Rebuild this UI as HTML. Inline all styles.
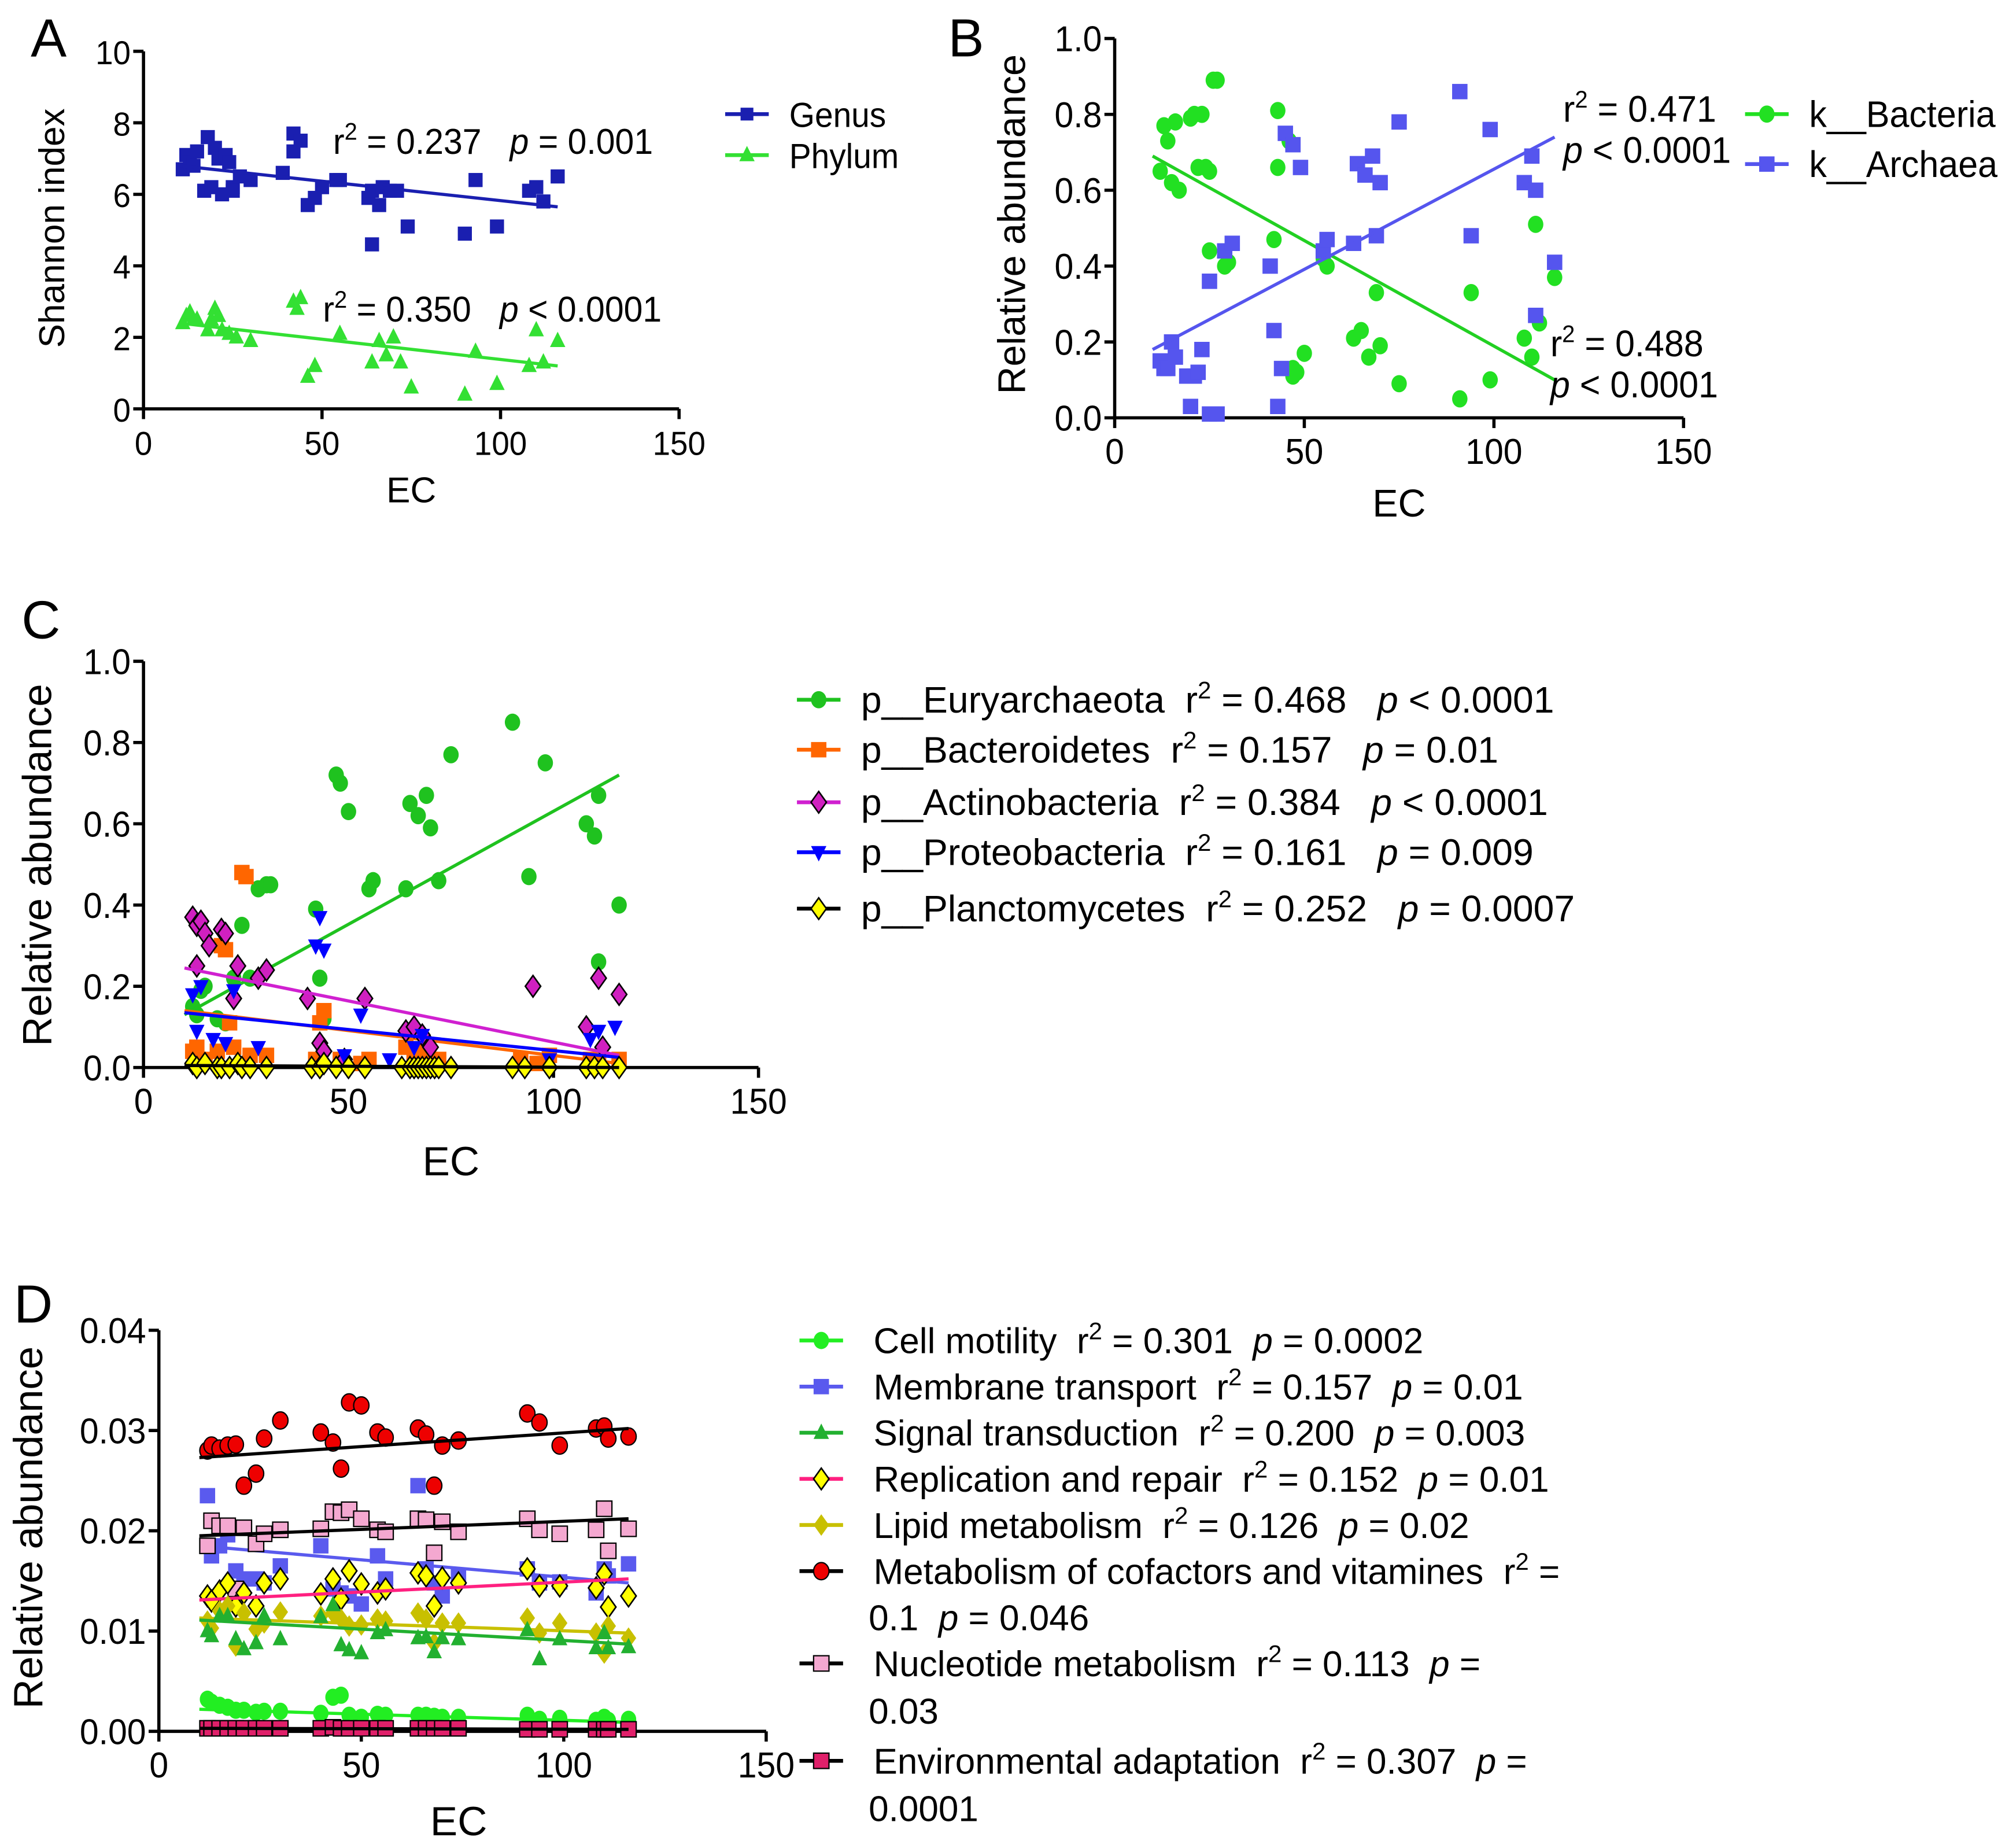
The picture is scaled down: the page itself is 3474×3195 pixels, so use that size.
<!DOCTYPE html>
<html><head><meta charset="utf-8"><style>
html,body{margin:0;padding:0;background:#fff}
svg{display:block}
text{font-family:"Liberation Sans",Arial,sans-serif;fill:#000}
</style></head><body>
<svg id="fig" xmlns="http://www.w3.org/2000/svg" width="3474" height="3195" viewBox="0 0 1568 1442">
<rect width="1568" height="1442" fill="#fff"/>
</svg>
<script>
// ---------- Panel A data ----------
const aGenusEC=[11,12,13,14,15,17,18,19,20,21,22,23,24,25,25,27,30,39,42,42,44,46,48,50,54,55,63,64,66,67,69,71,64,74,90,93,99,108,110,112,116];
const aGenusVal=[6.7,7.1,6.9,6.8,7.2,6.1,7.6,6.2,7.3,7.0,6.0,7.1,6.9,6.2,6.1,6.5,6.4,6.6,7.7,7.2,7.5,5.7,5.9,6.2,6.4,6.4,5.9,6.1,5.7,6.2,6.1,6.1,4.6,5.1,4.9,6.4,5.1,6.1,6.2,5.8,6.5];
const aPhylumEC=[11,12,13,14,15,18,19,20,21,22,24,26,30,42,43,44,46,48,55,64,66,68,70,72,75,90,93,99,108,110,112,116];
const aPhylumVal=[2.4,2.6,2.7,2.5,2.5,2.2,2.5,2.8,2.6,2.2,2.1,2.0,1.9,3.0,2.8,3.1,0.9,1.2,2.1,1.3,1.9,1.5,2.0,1.3,0.6,0.4,1.6,0.7,1.2,2.2,1.3,1.9];
const aLineGenus=[10,6.8,116,5.65];
const aLinePhylum=[10,2.4,116,1.2];
const aXTicks=[0,50,100,150];
const aYTicks=[0,2,4,6,8,10];
// ---------- Panel B data ----------
const bBacEC=[12,13,14,15,16,17,20,21,22,23,24,25,25,26,27,29,30,42,43,43,46,47,47,48,50,56,63,65,67,69,70,75,91,94,99,108,110,111,112,116,55];
const bBacVal=[0.65,0.77,0.73,0.62,0.78,0.60,0.79,0.80,0.66,0.80,0.66,0.65,0.44,0.89,0.89,0.40,0.41,0.47,0.81,0.66,0.73,0.11,0.13,0.12,0.17,0.40,0.21,0.23,0.16,0.33,0.19,0.09,0.05,0.33,0.10,0.21,0.16,0.51,0.25,0.37,0.42];
const bArcEC=[12,13,14,15,16,19,20,21,22,23,25,25,27,29,31,41,42,43,44,45,47,49,55,56,63,64,66,68,69,70,75,91,94,99,108,110,111,111,116];
const bArcVal=[0.15,0.13,0.13,0.20,0.16,0.11,0.03,0.11,0.12,0.18,0.36,0.01,0.01,0.44,0.46,0.40,0.23,0.03,0.13,0.75,0.72,0.66,0.44,0.47,0.46,0.67,0.64,0.69,0.48,0.62,0.78,0.86,0.48,0.76,0.62,0.69,0.60,0.27,0.41];
const bLineBac=[10,0.69,116,0.10];
const bLineArc=[10,0.18,116,0.74];
const bYTicks=[0,0.2,0.4,0.6,0.8,1.0];
// ---------- Panel C data ----------
const cEuryEC=[12,13,14,15,18,20,22,24,26,28,30,31,42,43,44,47,48,50,55,56,64,65,67,69,70,72,75,90,94,98,108,110,111,111,116];
const cEuryVal=[0.15,0.13,0.19,0.20,0.12,0.11,0.22,0.35,0.22,0.44,0.45,0.45,0.39,0.22,0.12,0.72,0.70,0.63,0.44,0.46,0.44,0.65,0.62,0.67,0.59,0.46,0.77,0.85,0.47,0.75,0.60,0.57,0.67,0.26,0.40];
const cBactEC=[12,13,15,18,19,20,21,22,24,25,26,30,42,43,44,48,53,55,64,66,68,70,72,92,96,99,109,111,116];
const cBactVal=[0.04,0.05,0.02,0.04,0.30,0.29,0.11,0.05,0.48,0.47,0.03,0.03,0.02,0.11,0.14,0.02,0.01,0.02,0.05,0.03,0.04,0.02,0.02,0.02,0.01,0.03,0.02,0.01,0.02];
const cActEC=[12,13,14,15,16,19,20,13,22,23,28,30,40,43,44,49,54,64,66,68,70,95,108,111,116,112];
const cActVal=[0.37,0.35,0.36,0.33,0.30,0.34,0.33,0.25,0.17,0.25,0.22,0.24,0.17,0.06,0.04,0.02,0.17,0.09,0.10,0.08,0.05,0.20,0.10,0.22,0.18,0.05];
const cProEC=[12,14,13,17,20,22,28,43,42,44,53,49,60,66,68,99,109,111,115];
const cProVal=[0.18,0.20,0.09,0.07,0.06,0.19,0.05,0.37,0.30,0.29,0.13,0.03,0.02,0.05,0.08,0.02,0.07,0.09,0.10];
const cPlaEC=[12,13,15,18,19,21,23,24,26,30,41,43,44,47,50,54,63,65,66,67,68,69,70,71,72,75,90,93,99,108,110,112,116];
const cPlaVal=[0.01,0.0,0.01,0.0,0.0,0.0,0.01,0.0,0.0,0.0,0.0,0.0,0.01,0.0,0.0,0.0,0.0,0.0,0.0,0.0,0.0,0.0,0.0,0.0,0.0,0.0,0.0,0.0,0.0,0.0,0.0,0.0,0.0];
const cLineEury=[10,0.13,116,0.72];
const cLineBact=[10,0.14,116,0.01];
const cLineAct=[10,0.245,116,0.03];
const cLinePro=[10,0.135,116,0.025];
const cLinePla=[10,0.005,116,0.0];
// ---------- Panel D data ----------
const dEC=[12,13,15,17,19,21,24,26,30,40,43,45,47,50,54,56,64,66,68,70,74,91,94,99,108,110,111,116];
const dCofactor=[0.028,0.0285,0.0282,0.0285,0.0286,0.0245,0.0257,0.0292,0.031,0.0298,0.0288,0.0262,0.0328,0.0325,0.0298,0.0293,0.0302,0.0296,0.0245,0.0285,0.029,0.0317,0.0308,0.0285,0.0302,0.0304,0.0292,0.0294];
const dNucleo=[0.0185,0.021,0.0205,0.0205,0.0142,0.0203,0.0187,0.0197,0.0201,0.0202,0.0219,0.0218,0.0221,0.0212,0.0201,0.0199,0.0212,0.0211,0.0178,0.0209,0.0199,0.0212,0.0201,0.0197,0.0201,0.0222,0.018,0.0202];
const dMembrane=[0.0235,0.0175,0.0185,0.0196,0.016,0.0152,0.0152,0.0148,0.0165,0.0185,0.0142,0.0138,0.0135,0.0127,0.0175,0.0152,0.0245,0.0162,0.0148,0.0135,0.0155,0.0162,0.0148,0.0149,0.0138,0.0162,0.0155,0.0167];
const dReplic=[0.0135,0.013,0.014,0.0148,0.0125,0.0138,0.0125,0.0148,0.0152,0.0137,0.0152,0.0132,0.016,0.0147,0.0138,0.0142,0.0158,0.0155,0.0125,0.0153,0.0148,0.0162,0.0145,0.0145,0.0143,0.0157,0.0124,0.0135];
const dLipid=[0.011,0.0103,0.012,0.0125,0.0085,0.0118,0.0102,0.0108,0.0119,0.0115,0.0118,0.0112,0.0105,0.0106,0.0112,0.011,0.0118,0.0112,0.0088,0.0108,0.0108,0.0113,0.0098,0.0108,0.0098,0.0078,0.0105,0.0093];
const dSignal=[0.01,0.0095,0.0115,0.0115,0.0092,0.0082,0.0088,0.0115,0.0092,0.0114,0.0126,0.0086,0.0081,0.0078,0.0098,0.0101,0.0093,0.0094,0.0079,0.0093,0.0092,0.0101,0.0072,0.0092,0.0083,0.0098,0.0083,0.0084];
const dMotility=[0.0032,0.0029,0.0026,0.0024,0.0021,0.0021,0.0019,0.002,0.002,0.0018,0.0034,0.0036,0.0016,0.0014,0.0017,0.0016,0.0016,0.0016,0.0015,0.0014,0.0014,0.0016,0.0012,0.0013,0.0011,0.0014,0.0011,0.0012];
const dEnv=[0.0003,0.0003,0.0003,0.0003,0.0003,0.0003,0.0003,0.0003,0.0003,0.0003,0.0004,0.0003,0.0003,0.0003,0.0003,0.0003,0.0003,0.0003,0.0003,0.0003,0.0003,0.0002,0.0002,0.0002,0.0002,0.0002,0.0002,0.0002];
const dLineCof=[10,0.0273,116,0.0302];
const dLineNuc=[10,0.0195,116,0.0212];
const dLineMem=[10,0.0185,116,0.0148];
const dLineRep=[10,0.0131,116,0.0152];
const dLineLip=[10,0.0113,116,0.0098];
const dLineSig=[10,0.0111,116,0.0087];
const dLineMot=[10,0.0022,116,0.0009];
const dLineEnv=[10,0.0003,116,0.0002];
const dYTicks=[0,0.01,0.02,0.03,0.04];

const NS='http://www.w3.org/2000/svg';
const svg=document.getElementById('fig');
function el(tag,attrs,parent){const e=document.createElementNS(NS,tag);for(const k in attrs)e.setAttribute(k,attrs[k]);(parent||svg).appendChild(e);return e;}
function txt(parent,x,y,s,size,anchor,sx){
  const t=el('text',{x:0,y:0,'font-size':size,'text-anchor':anchor||'start',transform:`translate(${x},${y}) scale(${sx||0.85},1)`},parent);
  
  
  t.innerHTML=s;return t;}
function scaleLin(d0,d1,r0,r1){return v=>r0+(v-d0)*(r1-r0)/(d1-d0);}
function marker(g,shape,x,y,fill,s){
  let m;
  if(shape==='sq') m=el('rect',{x:x-s,y:y-s,width:2*s,height:2*s,fill:fill},g);
  else if(shape==='circ') m=el('ellipse',{cx:x,cy:y,rx:s,ry:s*1.12,fill:fill},g);
  else if(shape==='circK') m=el('ellipse',{cx:x,cy:y,rx:s,ry:s*1.12,fill:fill,stroke:'#000','stroke-width':1},g);
  else if(shape==='sqK') m=el('rect',{x:x-s,y:y-s,width:2*s,height:2*s,fill:fill,stroke:'#000','stroke-width':1},g);
  else if(shape==='tri') m=el('polygon',{points:`${x},${y-s*1.2} ${x-s},${y+s*0.8} ${x+s},${y+s*0.8}`,fill:fill},g);
  else if(shape==='itri') m=el('polygon',{points:`${x},${y+s*1.2} ${x-s},${y-s*0.8} ${x+s},${y-s*0.8}`,fill:fill},g);
  else if(shape==='dia') m=el('polygon',{points:`${x},${y-s*1.4} ${x+s},${y} ${x},${y+s*1.4} ${x-s},${y}`,fill:fill,stroke:'#000','stroke-width':1.2},g);
  else if(shape==='diaN') m=el('polygon',{points:`${x},${y-s*1.4} ${x+s},${y} ${x},${y+s*1.4} ${x-s},${y}`,fill:fill},g);
  return m;}
function axes(g,x0,x1,y0,y1,xt,yt,yfmt,xs,ys,fs){
  el('line',{x1:x0,y1:y0,x2:x0,y2:y1,stroke:'#000','stroke-width':2.5},g);
  el('line',{x1:x0,y1:y0,x2:x1,y2:y0,stroke:'#000','stroke-width':2.5},g);
  xt.forEach(v=>{const x=xs(v);el('line',{x1:x,y1:y0,x2:x,y2:y0+8,stroke:'#000','stroke-width':2.5},g);txt(g,x,y0+36,String(v),fs,'middle',0.95);});
  yt.forEach(v=>{const y=ys(v);el('line',{x1:x0-8,y1:y,x2:x0,y2:y,stroke:'#000','stroke-width':2.5},g);txt(g,x0-10,y+10,yfmt(v),fs,'end',0.95);});
}
function series(g,name,xsArr,ysArr,xs,ys,shape,fill,s,line,lc){
  const sg=el('g',{},g);
  
  
  xsArr.forEach((v,i)=>{const m=marker(sg,shape,xs(v),ys(ysArr[i]),fill,s);
    
    });
  if(line){const l=el('line',{x1:xs(line[0]),y1:ys(line[1]),x2:xs(line[2]),y2:ys(line[3]),stroke:lc,'stroke-width':2.5},sg);
    
    }
}
function legendEntry(g,x,y,shape,fill,lc,s,html,sx,fs){
  el('line',{x1:x,y1:y,x2:x+34,y2:y,stroke:lc,'stroke-width':3},g);
  marker(g,shape,x+17,y,fill,s);
  const t=txt(g,x+50,y+10,html,fs||28,'start',sx);
  
  return t;}
const R2='r<tspan dy="-11" font-size="19">2</tspan><tspan dy="11"> </tspan>';

// ---------- Panel A ----------
{const g=el('g',{});
 const xs=scaleLin(0,150,112,530), ys=scaleLin(0,10,319,40);
 txt(g,38,44,'A',42,'middle',1);
 axes(g,112,530,319,40,aXTicks,aYTicks,v=>String(v),xs,ys,26);
 const yt=txt(g,0,0,'Shannon index',28,'middle',1);yt.setAttribute('transform','translate(50,178) rotate(-90)');
 txt(g,321,392,'EC',28,'middle',1);
 series(g,'genus-series',aGenusEC,aGenusVal,xs,ys,'sq','#1a1fb0',5.5,aLineGenus,'#1a1fb0');
 series(g,'phylum-series',aPhylumEC,aPhylumVal,xs,ys,'tri','#33e033',6,aLinePhylum,'#33e033');
 txt(g,260,120,R2+'= 0.237 &#160;&#160;<tspan font-style="italic">p</tspan> = 0.001',28,'start',0.95);
 txt(g,252,251,R2+'= 0.350 &#160;&#160;<tspan font-style="italic">p</tspan> &lt; 0.0001',28,'start',0.95);
 legendEntry(g,566,89,'sq','#1a1fb0','#1a1fb0',5,'Genus',0.95,27);
 legendEntry(g,566,121,'tri','#33e033','#33e033',6,'Phylum',0.95,27);
}
// ---------- Panel B ----------
{const g=el('g',{});
 const xs=scaleLin(0,150,870,1314), ys=scaleLin(0,1,326,30);
 txt(g,754,44,'B',42,'middle',1);
 axes(g,870,1314,326,30,aXTicks,bYTicks,v=>v.toFixed(1),xs,ys,28);
 const yt=txt(g,0,0,'Relative abundance',30,'middle',1);yt.setAttribute('transform','translate(800,175) rotate(-90)');
 txt(g,1092,403,'EC',30,'middle',1);
 series(g,'bacteria-series',bBacEC,bBacVal,xs,ys,'circ','#22e022',6,bLineBac,'#22d022');
 series(g,'archaea-series',bArcEC,bArcVal,xs,ys,'sq','#5555ee',6,bLineArc,'#5555ee');
 txt(g,1220,95,R2+'= 0.471',29,'start',0.95);
 txt(g,1220,127,'<tspan font-style="italic">p</tspan> &lt; 0.0001',29,'start',0.95);
 txt(g,1210,278,R2+'= 0.488',29,'start',0.95);
 txt(g,1210,310,'<tspan font-style="italic">p</tspan> &lt; 0.0001',29,'start',0.95);
 legendEntry(g,1362,89,'circ','#22e022','#22e022',6,'k__Bacteria',0.95,29);
 legendEntry(g,1362,128,'sq','#5555ee','#5555ee',6,'k__Archaea',0.95,29);
}
// ---------- Panel C ----------
{const g=el('g',{});
 const xs=scaleLin(0,150,112,592), ys=scaleLin(0,1,833,516);
 txt(g,32,498,'C',42,'middle',1);
 axes(g,112,592,833,516,aXTicks,bYTicks,v=>v.toFixed(1),xs,ys,28);
 const yt=txt(g,0,0,'Relative abundance',32,'middle',1);yt.setAttribute('transform','translate(40,675) rotate(-90)');
 txt(g,352,917,'EC',32,'middle',1);
 series(g,'euryarchaeota-series',cEuryEC,cEuryVal,xs,ys,'circ','#1fc21f',6,cLineEury,'#1fc21f');
 series(g,'bacteroidetes-series',cBactEC,cBactVal,xs,ys,'sq','#ff6600',6,cLineBact,'#ff6600');
 series(g,'actinobacteria-series',cActEC,cActVal,xs,ys,'dia','#d020c0',6,cLineAct,'#d020d0');
 series(g,'proteobacteria-series',cProEC,cProVal,xs,ys,'itri','#0000ff',6,cLinePro,'#0000ff');
 series(g,'planctomycetes-series',cPlaEC,cPlaVal,xs,ys,'dia','#ffff00',6,cLinePla,'#000');
 const P='<tspan font-style="italic">p</tspan>';
 legendEntry(g,622,546,'circ','#1fc21f','#1fc21f',6,'p__Euryarchaeota &#160;'+R2+'= 0.468 &#160;&#160;'+P+' &lt; 0.0001',1.0,29);
 legendEntry(g,622,585,'sq','#ff6600','#ff6600',6,'p__Bacteroidetes &#160;'+R2+'= 0.157 &#160;&#160;'+P+' = 0.01',1.0,29);
 legendEntry(g,622,626,'dia','#d020c0','#d020d0',6,'p__Actinobacteria &#160;'+R2+'= 0.384 &#160;&#160;'+P+' &lt; 0.0001',1.0,29);
 legendEntry(g,622,665,'itri','#0000ff','#0000ff',6,'p__Proteobacteria &#160;'+R2+'= 0.161 &#160;&#160;'+P+' = 0.009',1.0,29);
 legendEntry(g,622,709,'dia','#ffff00','#000',6,'p__Planctomycetes &#160;'+R2+'= 0.252 &#160;&#160;'+P+' = 0.0007',1.0,29);
}
// ---------- Panel D ----------
{const g=el('g',{});
 const xs=scaleLin(0,150,124,598), ys=scaleLin(0,0.04,1351,1038);
 txt(g,26,1032,'D',42,'middle',1);
 axes(g,124,598,1351,1038,aXTicks,dYTicks,v=>v.toFixed(2),xs,ys,28);
 const yt=txt(g,0,0,'Relative abundance',32,'middle',1);yt.setAttribute('transform','translate(33,1192) rotate(-90)');
 txt(g,358,1432,'EC',32,'middle',1);
 series(g,'cofactors-series',dEC,dCofactor,xs,ys,'circK','#ee0000',6,dLineCof,'#000');
 series(g,'membrane-series',dEC,dMembrane,xs,ys,'sq','#5a5aee',6,dLineMem,'#5a5aee');
 series(g,'nucleotide-series',dEC,dNucleo,xs,ys,'sqK','#f4a8d0',6,dLineNuc,'#000');
 series(g,'replication-series',dEC,dReplic,xs,ys,'dia','#ffff00',6,dLineRep,'#ff2080');
 series(g,'lipid-series',dEC,dLipid,xs,ys,'diaN','#c8c000',6,dLineLip,'#c8c000');
 series(g,'signal-series',dEC,dSignal,xs,ys,'tri','#22b030',6,dLineSig,'#22b030');
 series(g,'motility-series',dEC,dMotility,xs,ys,'circ','#22ee22',6,dLineMot,'#22ee22');
 series(g,'environmental-series',dEC,dEnv,xs,ys,'sqK','#e0206a',6,dLineEnv,'#000');
 const P='<tspan font-style="italic">p</tspan>';
 legendEntry(g,624,1046,'circ','#22ee22','#22ee22',6,'&#160;Cell motility &#160;'+R2+'= 0.301 &#160;'+P+' = 0.0002',1.0,28);
 legendEntry(g,624,1082,'sq','#5a5aee','#5a5aee',6,'&#160;Membrane transport &#160;'+R2+'= 0.157 &#160;'+P+' = 0.01',1.0,28);
 legendEntry(g,624,1118,'tri','#22b030','#22b030',6,'&#160;Signal transduction &#160;'+R2+'= 0.200 &#160;'+P+' = 0.003',1.0,28);
 legendEntry(g,624,1154,'dia','#ffff00','#ff2080',6,'&#160;Replication and repair &#160;'+R2+'= 0.152 &#160;'+P+' = 0.01',1.0,28);
 legendEntry(g,624,1190,'diaN','#c8c000','#c8c000',6,'&#160;Lipid metabolism &#160;'+R2+'= 0.126 &#160;'+P+' = 0.02',1.0,28);
 legendEntry(g,624,1226,'circK','#ee0000','#000',6,'&#160;Metabolism of cofactors and vitamines &#160;'+R2+'=',1.0,28);
 txt(g,678,1272,'0.1 &#160;'+P+' = 0.046',28,'start',1.0);
 legendEntry(g,624,1298,'sqK','#f4a8d0','#000',6,'&#160;Nucleotide metabolism &#160;'+R2+'= 0.113 &#160;'+P+' =',1.0,28);
 txt(g,678,1345,'0.03',28,'start',1.0);
 legendEntry(g,624,1374,'sqK','#e0206a','#000',6,'&#160;Environmental adaptation &#160;'+R2+'= 0.307 &#160;'+P+' =',1.0,28);
 txt(g,678,1421,'0.0001',28,'start',1.0);
}
</script>
</body></html>
